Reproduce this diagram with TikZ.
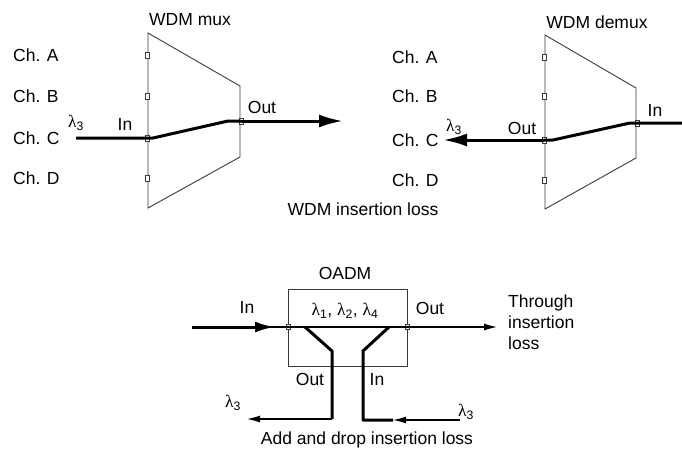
\documentclass[tikz,border=0pt]{standalone}
\usepackage{fontspec}
\setmainfont{Liberation Sans}
\newfontfamily\greekfont{Liberation Serif}
\usepackage{tikz}
\usetikzlibrary{arrows.meta,positioning,calc}
\definecolor{edgegray}{HTML}{3A3A3A}
\tikzset{
  lbl/.style={font=\fontsize{17.5}{21}\selectfont,inner sep=0pt},
  port/.style={draw=edgegray,fill=white,line width=0.7pt,minimum width=4pt,minimum height=6pt,inner sep=0pt},
  device/.style={draw=edgegray,line width=0.9pt},
  fibre/.style={line width=3pt,line join=round},
  thinline/.style={line width=1.1pt},
  bigarrow/.style={-{Latex[length=24pt,width=13pt]}},
  smallarrow/.style={-{Latex[length=13pt,width=7pt]}}
}
\newcommand{\lamsub}[1]{{\greekfont λ}\textsubscript{#1}}

\begin{document}
\begin{tikzpicture}[x=1pt,y=-1pt]
  \useasboundingbox (0,0) rectangle (682,451);

  % WDM mux
  \draw[device] (148,33) -- (240,86) -- (240,157) -- (148,208) -- cycle;
  \node[lbl] (muxtitle) at (190,20) {WDM mux};
  \foreach \name/\ch/\y in {muxA/A/55,muxB/B/96,muxC/C/138,muxD/D/178}{
    \node[port] (\name) at (147,\y) {};
    \node[lbl,anchor=west] (\name lbl) at (13,\y) {Ch. \ch};
  }
  \node[port] (muxout) at (241,121) {};
  \coordinate (muxsrc) at (76,138);
  \coordinate (muxdst) at (343,121);
  \node[lbl] (muxlam) at (76,123) {\lamsub{3}};
  \node[lbl] (muxin) at (125,124) {In};
  \node[lbl] (muxoutlbl) at (262,107) {Out};
  \draw[fibre] (muxsrc) -- (muxC.center) -- (153,138) -- (228,121) -- (muxout.center);
  \draw[fibre,bigarrow] (muxout.center) -- (muxdst);

  % WDM demux
  \draw[device] (545,35) -- (636,88) -- (636,158) -- (545,209) -- cycle;
  \node[lbl] (demuxtitle) at (597,22) {WDM demux};
  \foreach \name/\ch/\y in {demuxA/A/57,demuxB/B/96,demuxC/C/140,demuxD/D/180}{
    \node[port] (\name) at (544,\y) {};
    \node[lbl,anchor=west] (\name lbl) at (392,\y) {Ch. \ch};
  }
  \node[port] (demuxin) at (637,123) {};
  \coordinate (demuxsrc) at (682,123);
  \coordinate (demuxdst) at (443,140);
  \node[lbl] (demuxlam) at (454,127) {\lamsub{3}};
  \node[lbl] (demuxoutlbl) at (522,128) {Out};
  \node[lbl] (demuxinlbl) at (655,110) {In};
  \draw[fibre] (demuxsrc) -- (demuxin.center) -- (630,123) -- (553,140) -- (demuxC.center);
  \draw[fibre,bigarrow] (demuxC.center) -- (demuxdst);

  \node[lbl] (wdmloss) at (363,209) {WDM insertion loss};

  % OADM
  \draw[device] (288,289) rectangle (407,366);
  \node[lbl] (oadmtitle) at (345,273) {OADM};
  \node[lbl] (oadmlams) at (345,311) {\lamsub{1}, \lamsub{2}, \lamsub{4}};
  \node[port,minimum height=5pt] (oadmin) at (288,327) {};
  \node[port,minimum height=5pt] (oadmout) at (407,327) {};
  \coordinate (oadmsrc) at (192,327);
  \coordinate (thrudst) at (497,327);
  \node[lbl] (oadminlbl) at (247,307) {In};
  \node[lbl] (oadmoutlbl) at (430,308) {Out};
  \node[lbl,align=left,anchor=west] (thrulbl) at (508,322) {Through\\insertion\\loss};
  \draw[thinline] (oadmsrc) -- (oadmin.center) -- (oadmout.center);
  \draw[fibre,-{Latex[length=20pt,width=11pt]},shorten >=13pt] (oadmsrc) -- (oadmin.center);
  \draw[thinline,smallarrow] (oadmout.center) -- (thrudst);

  % drop and add ports
  \coordinate (dropsrc) at (305,327);
  \coordinate (dropend) at (332,419);
  \coordinate (dropdst) at (247,419);
  \coordinate (addsrc) at (460,420);
  \coordinate (addtip) at (393,420);
  \coordinate (addend) at (389,327);
  \draw[fibre] (dropsrc) -- (332,351) -- (dropend);
  \draw[thinline,smallarrow] (dropend) -- (dropdst);
  \draw[thinline,smallarrow] (addsrc) -- (addtip);
  \draw[fibre] (addtip) -- (363,420) -- (363,351) -- (addend);
  \node[lbl] (dropoutlbl) at (310,379) {Out};
  \node[lbl] (addinlbl) at (377,379) {In};
  \node[lbl] (droplam) at (233,403) {\lamsub{3}};
  \node[lbl] (addlam) at (466,412) {\lamsub{3}};
  \node[lbl] (adddroploss) at (367,440) {Add and drop insertion loss};
\end{tikzpicture}
\end{document}
